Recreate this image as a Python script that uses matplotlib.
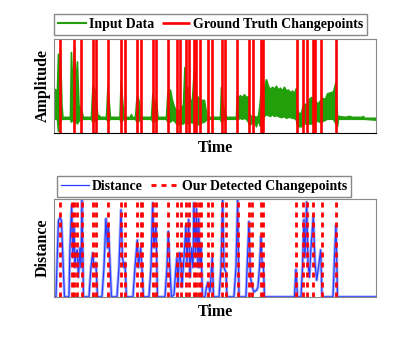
import numpy as np
import matplotlib
matplotlib.use("Agg")
import matplotlib.pyplot as plt

plt.rcParams['font.family'] = ['Liberation Serif', 'DejaVu Serif']
plt.rcParams['font.weight'] = 'bold'

# input signal, read as an envelope (sample index, low, high)
sig_t = [0, 30, 40, 50, 60, 75, 85, 160, 170, 185, 200, 215, 230, 245, 270, 290,
         370, 385, 410, 435, 447, 460, 520, 535, 550, 560, 655, 667, 685, 695,
         760, 770, 780, 810, 827, 845, 860, 875, 970, 985, 1000, 1020, 1035,
         1120, 1135, 1160, 1180, 1200, 1230, 1260, 1290, 1305, 1320, 1340, 1360,
         1380, 1400, 1420, 1440, 1470, 1500, 1520, 1530, 1600, 1660, 1670, 1685,
         1700, 1720, 1820, 1827, 1840, 1860, 1880, 1900, 1920, 1940, 1950, 1970,
         1985, 2000, 2020, 2040, 2055, 2070, 2090, 2100, 2120, 2140, 2160, 2180,
         2200, 2220, 2240, 2260, 2280, 2300, 2320, 2340, 2360, 2380, 2400, 2420,
         2430, 2450, 2470, 2490, 2510, 2530, 2550, 2570, 2590, 2610, 2630, 2650,
         2670, 2690, 2710, 2730, 2760, 2790, 2815, 2830, 2840, 2910, 2950, 2980,
         3080, 3090, 3100, 3220]
sig_lo = [0.15, 0.15, 0.02, 0.15, 0.12, 0.15, 0.15, 0.15, 0.12, 0.14, 0.12, 0.13, 0.10, 0.13, 0.14, 0.15,
          0.15, 0.12, 0.13, 0.15, 0.15, 0.15, 0.15, 0.13, 0.14, 0.15, 0.15, 0.12, 0.14, 0.15,
          0.15, 0.15, 0.15, 0.15, 0.12, 0.13, 0.14, 0.15, 0.15, 0.12, 0.13, 0.13, 0.15,
          0.15, 0.12, 0.12, 0.14, 0.13, 0.09, 0.10, 0.10, 0.12, 0.12, 0.10, 0.12,
          0.11, 0.12, 0.10, 0.09, 0.11, 0.12, 0.14, 0.15, 0.15, 0.15, 0.12, 0.13,
          0.14, 0.15, 0.15, 0.14, 0.15, 0.16, 0.15, 0.16, 0.15, 0.12, 0.09, 0.10,
          0.15, 0.13, 0.07, 0.15, 0.08, 0.08, 0.15, 0.18, 0.20, 0.19, 0.18, 0.20,
          0.18, 0.19, 0.18, 0.17, 0.17, 0.18, 0.16, 0.17, 0.17, 0.16, 0.16, 0.14,
          0.08, 0.07, 0.07, 0.10, 0.10, 0.10, 0.10, 0.10, 0.10, 0.12, 0.13, 0.12,
          0.12, 0.13, 0.14, 0.15, 0.15, 0.15, 0.10, 0.07, 0.15, 0.15, 0.15, 0.15,
          0.15, 0.15, 0.15, 0.14]
sig_hi = [0.47, 0.45, 0.84, 0.50, 0.90, 0.30, 0.17, 0.17, 0.86, 0.40, 0.91, 0.50, 0.76, 0.30, 0.25, 0.17,
          0.17, 0.50, 0.45, 0.17, 0.19, 0.17, 0.17, 0.49, 0.30, 0.17, 0.17, 0.55, 0.30, 0.17,
          0.17, 0.20, 0.17, 0.17, 0.40, 0.35, 0.20, 0.17, 0.17, 0.42, 0.30, 0.35, 0.17,
          0.17, 0.44, 0.46, 0.35, 0.28, 0.22, 0.25, 0.30, 0.70, 0.45, 0.49, 0.35,
          0.35, 0.70, 0.40, 0.38, 0.35, 0.35, 0.22, 0.17, 0.17, 0.17, 0.49, 0.30,
          0.25, 0.17, 0.17, 0.40, 0.38, 0.40, 0.38, 0.41, 0.38, 0.39, 0.20, 0.18,
          0.17, 0.18, 0.17, 0.18, 0.30, 0.50, 0.45, 0.48, 0.57, 0.50, 0.46, 0.49,
          0.47, 0.50, 0.46, 0.48, 0.45, 0.49, 0.45, 0.46, 0.43, 0.45, 0.42, 0.48,
          0.25, 0.20, 0.22, 0.30, 0.31, 0.29, 0.36, 0.38, 0.37, 0.35, 0.31, 0.33,
          0.36, 0.37, 0.36, 0.42, 0.43, 0.44, 0.54, 0.18, 0.18, 0.17, 0.18, 0.17,
          0.17, 0.18, 0.16, 0.16]

gt_cp = [57, 203, 270, 393, 423, 543, 673, 710, 827, 870, 987, 1020, 1143, 1230,
         1263, 1320, 1350, 1400, 1423, 1463, 1543, 1577, 1683, 1710, 1827, 1950,
         1987, 2073, 2087, 2430, 2493, 2533, 2593, 2613, 2667, 2817]

dist_t = [0, 20, 45, 60, 75, 105,
          150, 160, 177, 188, 200, 210, 220, 233, 245, 260, 270, 280, 295,
          350, 370, 387, 400, 420, 435,
          480, 500, 520, 535, 543, 560, 575,
          630, 650, 670, 685, 700, 710, 725,
          790, 810, 833, 845, 867, 883, 895,
          950, 970, 987, 1000, 1020, 1035,
          1110, 1130, 1143, 1160, 1175,
          1200, 1220, 1230, 1240, 1255, 1270, 1280, 1300, 1320, 1330, 1347, 1360,
          1375, 1390, 1400, 1415, 1425, 1440, 1447, 1460, 1470, 1485,
          1510, 1525, 1540, 1560, 1583, 1595,
          1650, 1670, 1687, 1700, 1720, 1730,
          1800, 1820, 1837, 1850,
          1920, 1935, 1950, 1965, 1983, 2000, 2027, 2040, 2055, 2070, 2083, 2093, 2105,
          2405, 2420, 2435,
          2470, 2485, 2500, 2510, 2527, 2540, 2555, 2570, 2593, 2610, 2627, 2645, 2667, 2680,
          2790, 2805, 2820, 2835,
          3220]
dist_v = [0, 0, 0.78, 0.81, 0.78, 0,
          0, 0.5, 0.94, 0.4, 0.73, 0.3, 0.45, 0.48, 0.2, 0.5, 0.3, 1.0, 0,
          0, 0.3, 0.45, 0.3, 0.35, 0,
          0, 0.3, 0.8, 0.5, 0.75, 0.35, 0,
          0, 0.3, 0.89, 0.4, 0.3, 0.35, 0,
          0, 0.3, 0.58, 0.3, 0.5, 0.24, 0,
          0, 0.3, 0.96, 0.5, 0.75, 0,
          0, 0.3, 0.67, 0.28, 0,
          0.02, 0.3, 0.4, 0.1, 0.45, 0.35, 0.1, 0.4, 0.73, 0.35, 0.79, 0.2,
          0.5, 0.3, 0.96, 0.4, 0.9, 0.3, 0.8, 0.3, 0.55, 0,
          0, 0.1, 0.15, 0.05, 0.41, 0,
          0, 0.3, 1.0, 0.3, 0.25, 0,
          0, 0.3, 1.0, 0,
          0, 0.4, 0.77, 0.2, 0.1, 0.05, 0.07, 0.1, 0.3, 0.62, 0.3, 0.35, 0,
          0, 0.28, 0,
          0, 0.3, 0.79, 0.4, 0.97, 0.35, 0.2, 0.5, 0.82, 0.35, 0.17, 0.3, 0.48, 0,
          0, 0.4, 0.73, 0,
          0]

det_cp = [60, 180, 200, 235, 277, 390, 420, 543, 673, 713, 833, 867, 883, 987,
          1020, 1143, 1230, 1270, 1320, 1347, 1400, 1420, 1450, 1467, 1540, 1577,
          1685, 1725, 1837, 1947, 1985, 2067, 2093, 2420, 2495, 2530, 2593, 2678,
          2820]

green = '#22a00c'
fig = plt.figure(figsize=(4.15, 3.46), dpi=100)

# top panel
ax1 = fig.add_axes([0.130, 0.616, 0.776, 0.272])
ax1.fill_between(sig_t, sig_lo, sig_hi, color=green, lw=1.2)
ax1.plot([], [], color=green, lw=1.5, label='Input Data')
ax1.vlines(gt_cp, 0, 1, transform=ax1.get_xaxis_transform(), color='red', lw=1.9,
           label='Ground Truth Changepoints')
ax1.set_xlim(0, 3220)
ax1.set_ylim(0, 1)
ax1.set_xticks([])
ax1.set_yticks([])
ax1.set_xlabel('Time', fontsize=11.5, fontweight='bold', labelpad=5)
ax1.set_ylabel('Amplitude', fontsize=11.5, fontweight='bold', labelpad=2)
ax1.legend(loc='lower left', bbox_to_anchor=(0, 1.04), ncol=2, fontsize=10,
           handlelength=2.0, handletextpad=0.2, columnspacing=0.6,
           borderpad=0.3, borderaxespad=0, fancybox=False, edgecolor='#888888',
           framealpha=1)

# bottom panel
ax2 = fig.add_axes([0.130, 0.142, 0.776, 0.283])
ax2.plot(dist_t, dist_v, color='#8896ff', lw=2.2, alpha=0.7)
ax2.plot(dist_t, dist_v, color='#2a3cff', lw=0.9, label='Distance')
ax2.vlines(det_cp, 0, 1, transform=ax2.get_xaxis_transform(), color='red', lw=2.0,
           linestyles=(0, (1.8, 1.8)), label='Our Detected Changepoints')
ax2.set_xlim(0, 3220)
ax2.set_ylim(0, 1)
ax2.set_xticks([])
ax2.set_yticks([])
ax2.set_xlabel('Time', fontsize=11.5, fontweight='bold', labelpad=5)
ax2.set_ylabel('Distance', fontsize=11.5, fontweight='bold', labelpad=2)
ax2.legend(loc='lower left', bbox_to_anchor=(0.01, 1.02), ncol=2, fontsize=10,
           handlelength=2.0, handletextpad=0.2, columnspacing=0.6,
           borderpad=0.3, borderaxespad=0, fancybox=False, edgecolor='#888888',
           framealpha=1)

for ax in (ax1, ax2):
    for s in ax.spines.values():
        s.set_color('#888888')
ax1.spines['bottom'].set_color('black')

fig.savefig('out.png', dpi=100)
